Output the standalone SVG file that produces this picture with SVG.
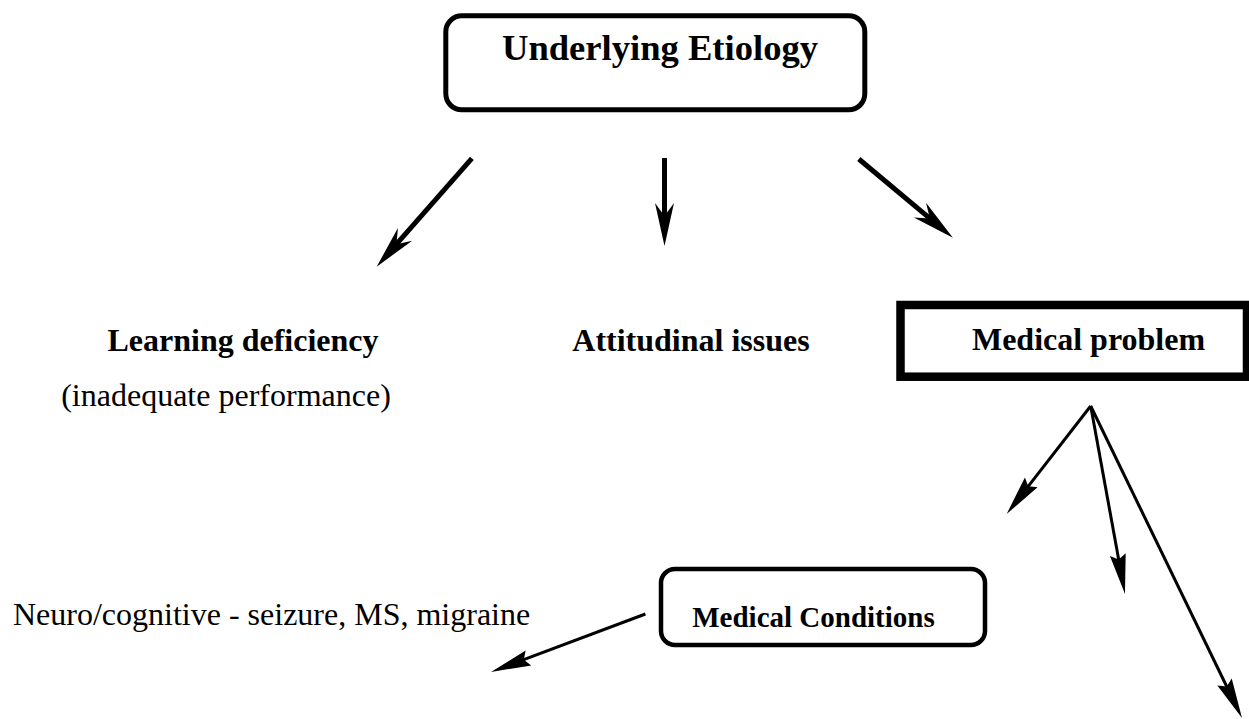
<svg xmlns="http://www.w3.org/2000/svg" width="1249" height="719" viewBox="0 0 1249 719">
  <style>
    .bold { font-family: "Liberation Serif", "Times New Roman", serif; font-weight: bold; fill: #000; }
    .reg { font-family: "Liberation Serif", "Times New Roman", serif; fill: #000; }
    .box { fill: #fff; stroke: #000; }
    .thick { stroke: #000; stroke-width: 5; fill: none; }
    .thin { stroke: #000; stroke-width: 3; fill: none; }
  </style>
  <defs>
    <!-- long notched head for the heavy arrows; line ends at the marker origin -->
    <marker id="headLong" markerUnits="userSpaceOnUse" viewBox="-17 -11 46 22" refX="0" refY="0" markerWidth="46" markerHeight="22" orient="auto" overflow="visible">
      <path d="M27,0 L-16,-9.5 L-3,0 L-16,9.5 Z" fill="#000"/>
    </marker>
    <!-- slimmer head for the light arrows -->
    <marker id="headShort" markerUnits="userSpaceOnUse" viewBox="-11 -9 42 18" refX="0" refY="0" markerWidth="42" markerHeight="18" orient="auto" overflow="visible">
      <path d="M30,0 L-10,-8 L-5,0 L-10,8 Z" fill="#000"/>
    </marker>
  </defs>
  <rect width="1249" height="719" fill="#fff"/>

  <g id="etiology">
    <rect class="box" x="445.8" y="15.8" width="419" height="94" rx="16" stroke-width="5"/>
    <text class="bold" x="660" y="60" font-size="36.6" text-anchor="middle">Underlying Etiology</text>
  </g>

  <g id="learning">
    <text class="bold" x="243" y="351" font-size="32" text-anchor="middle">Learning deficiency</text>
    <text class="reg" x="226" y="406" font-size="32" text-anchor="middle">(inadequate performance)</text>
  </g>

  <g id="attitudinal">
    <text class="bold" x="691" y="351" font-size="32" text-anchor="middle">Attitudinal issues</text>
  </g>

  <g id="medical-problem">
    <rect class="box" x="900.5" y="305" width="346.5" height="71.7" stroke-width="8.5"/>
    <text class="bold" x="1088.5" y="350" font-size="32" text-anchor="middle">Medical problem</text>
  </g>

  <g id="medical-conditions">
    <rect class="box" x="661" y="569" width="324" height="76" rx="14" stroke-width="4.5"/>
    <text class="bold" x="813.5" y="627" font-size="29" text-anchor="middle">Medical Conditions</text>
  </g>

  <g id="neuro">
    <text class="reg" x="13" y="625" font-size="32">Neuro/cognitive - seizure, MS, migraine</text>
  </g>

  <g id="connectors">
    <line class="thick" x1="471.9" y1="158.3" x2="394.5" y2="246.4" marker-end="url(#headLong)"/>
    <line class="thick" x1="664.5" y1="158" x2="664.5" y2="219" marker-end="url(#headLong)"/>
    <line class="thick" x1="858.8" y1="159" x2="932.2" y2="220.4" marker-end="url(#headLong)"/>
    <line class="thin" x1="1090.7" y1="406" x2="1025.1" y2="490.3" marker-end="url(#headShort)"/>
    <line class="thin" x1="1090.7" y1="406" x2="1119.6" y2="564.5" marker-end="url(#headShort)"/>
    <line class="thin" x1="1090.7" y1="406" x2="1228.9" y2="691" marker-end="url(#headShort)"/>
    <line class="thin" x1="645.4" y1="614" x2="519.1" y2="661.4" marker-end="url(#headShort)"/>
  </g>
</svg>
